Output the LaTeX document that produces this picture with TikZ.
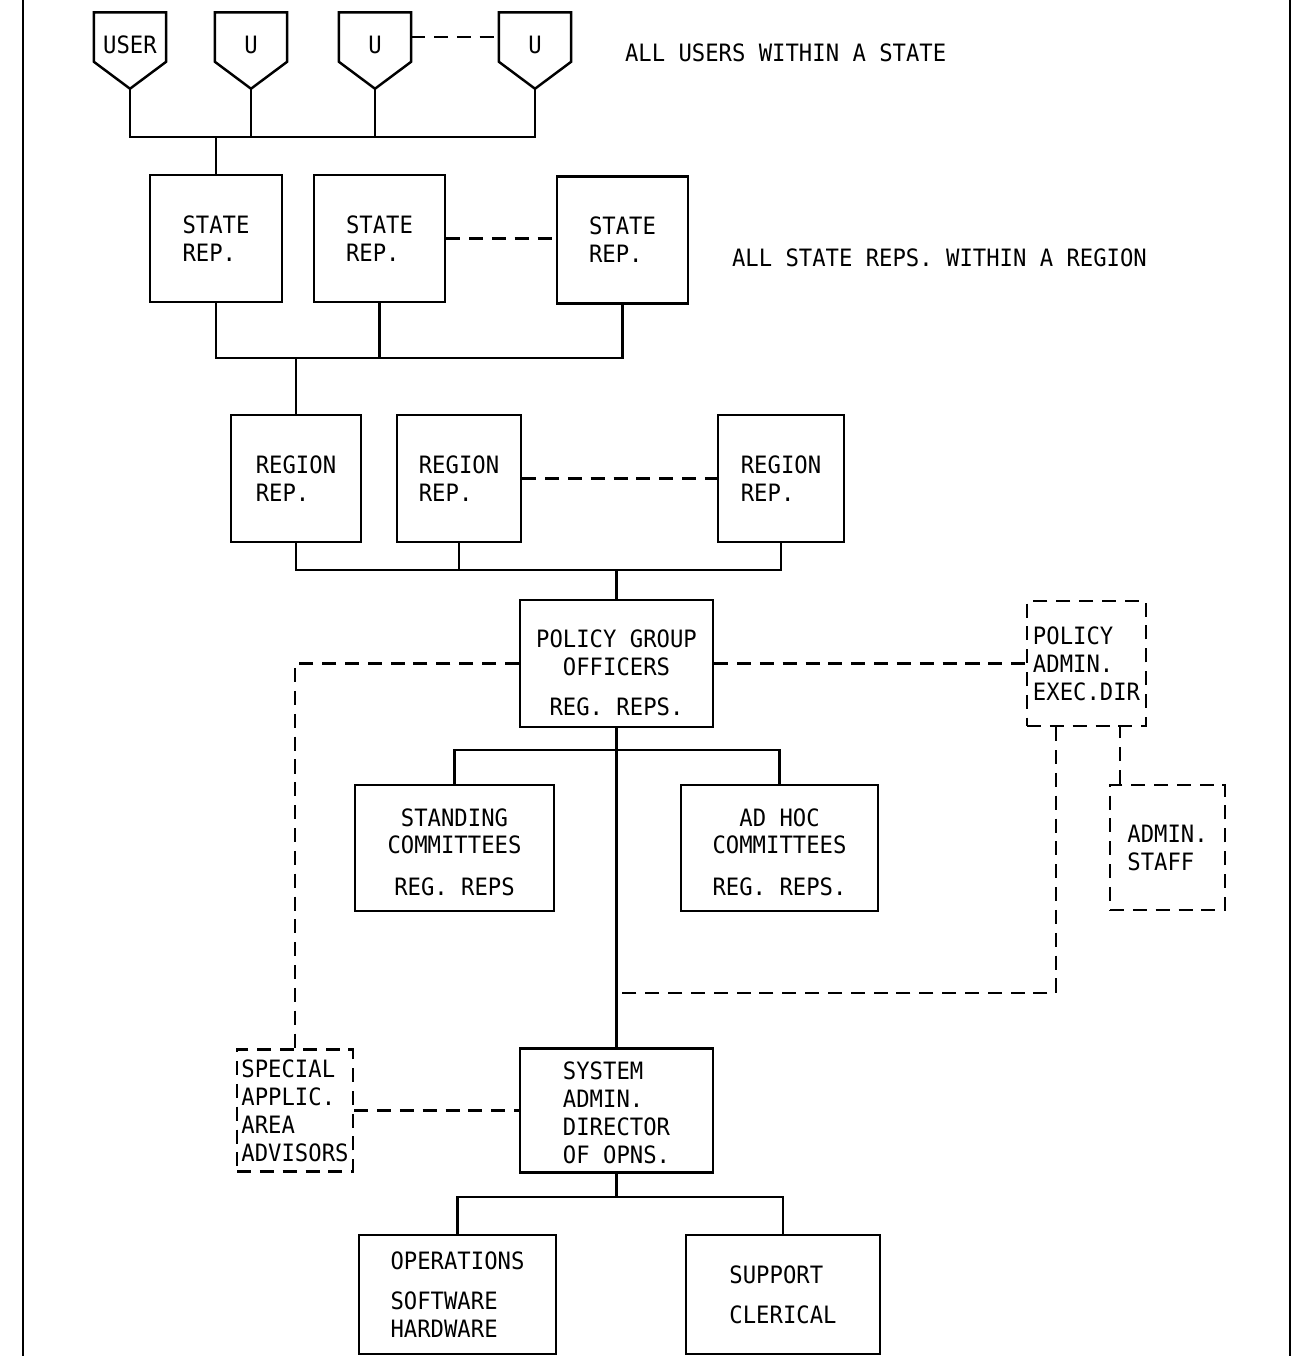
\documentclass[tikz,border=0pt]{standalone}
\usepackage{fontspec}
\newfontfamily\typew[FakeStretch=0.93]{DejaVu Sans Mono}
\begin{document}
\begin{tikzpicture}[x=0.02cm, y=-0.02cm, line width=1.4pt,
    font=\typew\fontsize{13.6pt}{15.9pt}\selectfont,
    box/.style={draw, inner sep=2pt, align=left, minimum height=2.54cm},
    dbox/.style={box, brk},
    brk/.style={dash pattern=on 8pt off 5pt},
    usr/.style={minimum width=1.4cm, minimum height=0.94cm, inner sep=0pt, text height=0.68cm, text depth=0pt}]
    \useasboundingbox (0,0) rectangle (1296,1356);
    \draw (23,0) -- (23,1356);
    \draw (1290,0) -- (1290,1356);

    \node[usr] (u1) at (130,37) {USER};
    \node[usr] (u2) at (251,37) {U};
    \node[usr] (u3) at (375,37) {U};
    \node[usr] (u4) at (535,37) {U};
    \foreach \u in {u1,u2,u3,u4} {
        \draw (\u.north west) -- (\u.north east) -- (\u.south east) -- ([yshift=-0.54cm]\u.south) -- (\u.south west) -- cycle;
        \coordinate (\u t) at ([yshift=-0.54cm]\u.south);
    }
    \node[anchor=west] (usrnote) at (618,53) {ALL USERS WITHIN A STATE};

    \node[box, minimum width=2.64cm] (s1) at (216,238.5) {STATE\\REP.};
    \node[box, minimum width=2.62cm] (s2) at (379.5,238.5) {STATE\\REP.};
    \node[box, minimum width=2.62cm] (s3) at (622.5,240) {STATE\\REP.};
    \node[anchor=west] (statenote) at (725,258) {ALL STATE REPS. WITHIN A REGION};

    \node[box, minimum width=2.6cm] (r1) at (296,478.5) {REGION\\REP.};
    \node[box, minimum width=2.48cm] (r2) at (459,478.5) {REGION\\REP.};
    \node[box, minimum width=2.52cm] (r3) at (781,478.5) {REGION\\REP.};

    \node[box, align=center, minimum width=3.86cm] (pg) at (616.5,663.5) {\rule{0pt}{21pt}POLICY GROUP\\OFFICERS\\[7pt]REG. REPS.};
    \node[dbox, minimum width=2.38cm, minimum height=2.5cm] (pa) at (1086.5,663.5) {POLICY\\ADMIN.\\EXEC.DIR};
    \node[dbox, minimum width=2.3cm, minimum height=2.5cm] (as) at (1167.5,847.5) {ADMIN.\\STAFF};

    \node[box, align=center, minimum width=3.98cm, minimum height=2.52cm] (sc) at (454.5,848) {\rule{0pt}{15pt}STANDING\\COMMITTEES\\[8pt]REG. REPS};
    \node[box, align=center, minimum width=3.94cm, minimum height=2.52cm] (ah) at (779.5,848) {\rule{0pt}{15pt}AD HOC\\COMMITTEES\\[8pt]REG. REPS.};

    \node[box, minimum width=3.86cm, minimum height=2.48cm] (sa) at (616.5,1110.5) {\rule{0pt}{13pt}SYSTEM\\ADMIN.\\DIRECTOR\\OF OPNS.};
    \node[dbox, minimum width=2.32cm, minimum height=2.44cm] (sp) at (295,1110.5) {SPECIAL\\APPLIC.\\AREA\\ADVISORS};

    \node[box, minimum width=3.94cm, minimum height=2.38cm] (op) at (457.5,1294.5) {OPERATIONS\\[7pt]SOFTWARE\\HARDWARE};
    \node[box, minimum width=3.88cm, minimum height=2.38cm] (su) at (783,1294.5) {SUPPORT\\[7pt]CLERICAL};

    \coordinate (ub) at (0,137);
    \coordinate (sb) at (0,358);
    \coordinate (rb) at (0,570);
    \coordinate (cb) at (0,750);
    \coordinate (db) at (616.5,993);
    \coordinate (ob) at (0,1197);

    \draw (u1t) |- (u4t |- ub) -- (u4t);
    \foreach \u in {u2t,u3t} \draw (\u) -- (\u |- ub);
    \draw (s1.north) -- (s1.north |- ub);
    \draw[brk] (u3.east) -- (u4.west);

    \draw (s1.south) |- (s3.south |- sb) -- (s3.south);
    \draw (s2.south) -- (s2.south |- sb);
    \draw (r1.north) -- (r1.north |- sb);
    \draw[brk] (s2.east) -- (s2.east -| s3.west);

    \draw (r1.south) |- (r3.south |- rb) -- (r3.south);
    \draw (r2.south) -- (r2.south |- rb);
    \draw (pg.north) -- (pg.north |- rb);
    \draw[brk] (r2.east) -- (r3.west);

    \draw (pg.south) -- (sa.north);
    \draw (sc.north) |- (ah.north |- cb) -- (ah.north);
    \draw[brk] (pg.west) -| (sp.north);
    \draw[brk] (pg.east) -- (pa.west);
    \draw[brk] ([xshift=0.6cm]pa.south west) |- (db);
    \draw[brk] ([xshift=0.22cm]as.north west) -- ([xshift=0.22cm]as.north west |- pa.south);
    \draw[brk] (sp.east) -- (sa.west);

    \draw (op.north) |- (su.north |- ob) -- (su.north);
    \draw (sa.south) -- (sa.south |- ob);
\end{tikzpicture}
\end{document}
